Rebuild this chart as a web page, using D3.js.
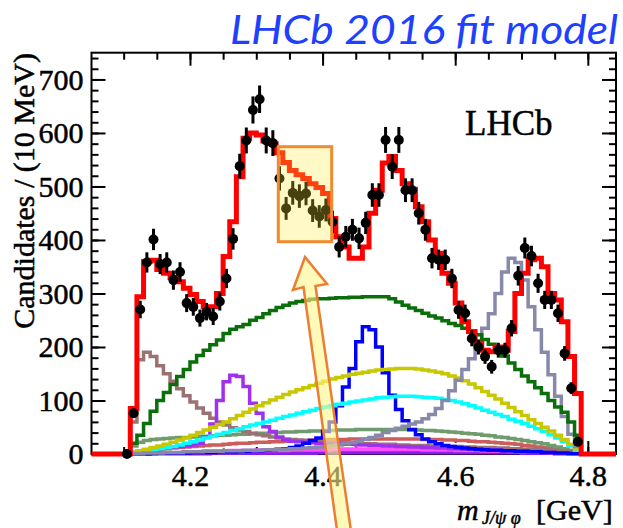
<!DOCTYPE html>
<html>
<head>
<meta charset="utf-8">
<script src="https://cdn.jsdelivr.net/npm/d3@7/dist/d3.min.js"></script>
<style>
  html, body { margin: 0; padding: 0; background: #fff; }
  svg { display: block; }
  .axis line { stroke: #000; stroke-width: 2; }
  .axis path { display: none; }
  .serif { font-family: "Liberation Serif", "Times New Roman", serif; fill: #000; stroke: #000; stroke-width: 0.5; }
</style>
</head>
<body>
<div id="chart"></div>
<script>
// bin centres, 10 MeV bins
var mass = [4.105,4.115,4.125,4.135,4.145,4.155,4.165,4.175,4.185,4.195,
  4.205,4.215,4.225,4.235,4.245,4.255,4.265,4.275,4.285,4.295,
  4.305,4.315,4.325,4.335,4.345,4.355,4.365,4.375,4.385,4.395,
  4.405,4.415,4.425,4.435,4.445,4.455,4.465,4.475,4.485,4.495,
  4.505,4.515,4.525,4.535,4.545,4.555,4.565,4.575,4.585,4.595,
  4.605,4.615,4.625,4.635,4.645,4.655,4.665,4.675,4.685,4.695,
  4.705,4.715,4.725,4.735,4.745,4.755,4.765,4.775,4.785];
var binWidth = 0.01;

// candidates per bin
var dataCounts = [0,76,270,358,401,355,358,325,340,282,
  275,254,266,257,285,328,402,538,586,643,
  663,586,581,515,459,488,482,487,455,444,
  456,434,387,406,419,403,432,484,484,587,
  537,587,493,493,450,419,366,363,363,328,
  269,263,216,200,182,163,194,194,235,333,
  385,370,319,288,288,263,188,123,23];

// total fit
var fitTotal = [0,85,294,360,362,345,338,330,322,310,
  298,285,275,275,300,369,434,518,590,600,
  596,585,580,563,545,530,522,515,505,498,
  487,440,406,387,366,366,387,450,493,544,
  556,530,505,495,462,434,400,375,338,319,
  282,247,229,207,194,191,200,194,229,300,
  338,363,366,350,300,288,247,182,113];

// fit components
var compGreen = [0,20,35,57,80,100,115,130,145,158,
  172,184,194,204,213,225,233,238,242,250,
  255,262,268,274,278,282,285,287,289,290,
  290,291,292,292,293,293,294,294,294,294,
  290,284,278,273,268,263,258,254,249,244,
  240,235,229,223,214,205,195,183,170,158,
  146,135,124,113,100,88,78,60,35];
var compBrown = [0,60,176,190,182,165,150,136,122,109,
  97,86,76,67,60,54,49,45,42,39,
  36,34,32,30,28,27,26,25,24,23,
  22,22,21,21,20,20,19,19,18,18,
  18,17,17,16,16,16,15,15,14,14,
  14,13,13,12,12,12,11,11,10,10,
  9,9,8,8,7,6,5,4,3];
var compViolet = [0,3,5,7,9,11,12,13,14,15,
  17,20,32,56,100,135,147,145,126,95,
  76,51,42,32,26,24,23,22,21,20,
  20,19,19,18,18,17,17,16,16,15,
  15,14,14,13,13,12,12,11,11,10,
  10,9,9,8,8,7,7,6,6,5,
  5,4,4,3,3,2,2,1,1];
var compBlue = [0,1,1,1,1,2,2,2,2,2,
  3,3,3,3,4,4,4,5,5,6,
  6,7,8,9,10,12,15,20,25,30,
  42,60,90,125,160,210,238,232,200,152,
  110,83,62,46,36,28,23,19,16,14,
  12,11,10,9,8,7,7,6,6,5,
  5,4,4,3,3,2,2,1,1];
var compYellow = [0,3,6,9,12,15,18,22,26,30,
  35,40,45,50,55,60,66,72,78,84,
  90,96,101,106,111,116,120,124,128,132,
  136,140,143,146,149,151,153,155,157,158,
  159,160,160,160,159,157,155,153,150,146,
  142,137,131,124,117,110,103,95,87,79,
  72,64,57,50,43,35,27,18,10];
var compCyan = [0,2,4,6,8,10,12,14,17,20,
  23,26,30,33,37,40,44,47,51,54,
  57,60,63,67,70,73,76,79,82,85,
  88,90,93,95,97,99,101,103,105,106,
  107,108,108,108,107,106,105,104,102,100,
  97,94,90,86,82,78,74,70,65,61,
  57,52,47,42,36,30,23,15,7];
var compGrey = [0,1,1,2,2,2,3,3,3,4,
  4,4,5,5,5,6,6,6,7,7,
  7,8,8,9,9,10,10,11,12,13,
  14,15,17,19,21,24,27,31,35,40,
  44,48,52,56,60,66,74,85,100,118,
  138,158,178,205,235,262,300,340,366,358,
  325,275,232,190,148,108,70,37,14];
var compSeaGreen = [0,15,22,25,27,28,29,30,31,31,
  32,33,33,34,35,35,36,37,37,38,
  39,39,40,40,41,41,42,42,43,43,
  44,44,45,45,45,46,46,46,46,46,
  46,46,46,45,45,44,44,43,42,41,
  40,39,38,37,35,34,32,31,29,27,
  25,23,21,19,16,13,10,7,3];
var compIndianRed = [0,3,5,7,8,9,10,11,12,13,
  14,15,16,17,17,18,19,20,20,21,
  22,22,23,23,24,24,25,25,26,26,
  26,27,27,27,28,28,28,28,28,28,
  28,28,28,28,28,27,27,27,26,26,
  25,25,24,23,23,22,21,20,19,18,
  16,15,13,12,10,8,6,4,2];
var compWhite = [0,2,3,4,5,6,7,8,9,9,
  10,11,12,12,13,14,14,15,15,16,
  16,17,17,18,18,18,19,19,19,20,
  20,20,20,21,21,21,21,21,21,21,
  21,21,21,20,20,20,20,19,19,18,
  18,17,17,16,16,15,14,13,12,11,
  10,9,8,7,6,5,4,3,1];
var compMagenta = [0,1,1,2,2,2,3,3,3,4,
  4,4,5,5,5,5,6,6,6,6,
  7,7,7,7,7,8,8,8,8,8,
  8,9,9,9,9,9,9,9,9,9,
  9,9,9,9,9,8,8,8,8,8,
  7,7,7,7,6,6,6,6,5,5,
  5,4,4,4,3,3,2,2,1];
var compPurple = [0,0,0,0,1,1,1,1,1,1,
  1,1,1,2,2,2,2,2,2,2,
  2,2,2,2,2,2,2,2,2,3,
  3,3,3,3,3,3,3,3,3,3,
  3,3,3,3,3,3,3,3,3,3,
  3,3,3,3,3,3,3,3,3,3,
  2,2,2,2,2,1,1,1,1];

// axis ticks
var xMajorTicks = [4.2, 4.4, 4.6, 4.8];
var yMajorTicks = [0, 100, 200, 300, 400, 500, 600, 700];

var width = 623;
var height = 528;
var frame = { left: 91.5, right: 616, top: 52.7, bottom: 454 };
var serifFont = '"Liberation Serif", "Times New Roman", serif';

var svg = d3.select('#chart').append('svg')
  .attr('width', width)
  .attr('height', height);

var x = d3.scaleLinear().domain([4.0515, 4.8425]).range([frame.left, frame.right]);
var y = d3.scaleLinear().domain([0, 750]).range([frame.bottom, frame.top]);

// histogram step outline
function stepPoints(vals, padFrame) {
  var pts = [];
  if (padFrame) pts.push([x.domain()[0], 0]);
  vals.forEach(function(v, i) {
    pts.push([mass[i] - binWidth / 2, v]);
    pts.push([mass[i] + binWidth / 2, v]);
  });
  pts.push([mass[mass.length - 1] + binWidth / 2, 0]);
  if (padFrame) pts.push([x.domain()[1], 0]);
  return pts;
}

var line = d3.line()
  .x(function(d) { return x(d[0]); })
  .y(function(d) { return y(d[1]); });

// ticks (inside the frame, on all four sides)
var minorX = x.ticks(16);
var minorY = y.ticks(37);

function axisGroup(t, axis) {
  var g = svg.append('g').attr('class', 'axis')
    .attr('transform', t)
    .attr('font-family', serifFont)
    .attr('font-size', 30)
    .call(axis);
  g.selectAll('text')
    .attr('class', 'serif')
    .style('font-family', serifFont)
    .style('font-size', '30px');
  return g;
}

axisGroup('translate(0,' + frame.top + ')', d3.axisTop(x).tickValues(minorX).tickSize(-7).tickFormat(''));
axisGroup('translate(0,' + frame.top + ')', d3.axisTop(x).tickValues(xMajorTicks).tickSize(-13).tickFormat(''));
axisGroup('translate(0,' + frame.bottom + ')', d3.axisBottom(x).tickValues(minorX).tickSize(-7).tickFormat(''));
axisGroup('translate(0,' + frame.bottom + ')', d3.axisBottom(x).tickValues(xMajorTicks).tickSize(-13).tickPadding(11)
  .tickFormat(d3.format('.1f')));

axisGroup('translate(' + frame.left + ',0)', d3.axisLeft(y).tickValues(minorY).tickSize(-7).tickFormat(''));
axisGroup('translate(' + frame.left + ',0)', d3.axisLeft(y).tickValues(yMajorTicks).tickSize(-14).tickPadding(8));
axisGroup('translate(' + frame.right + ',0)', d3.axisRight(y).tickValues(minorY).tickSize(-7).tickFormat(''));
axisGroup('translate(' + frame.right + ',0)', d3.axisRight(y).tickValues(yMajorTicks).tickSize(-14).tickFormat(''));

// frame
svg.append('rect')
  .attr('x', frame.left).attr('y', frame.top)
  .attr('width', frame.right - frame.left)
  .attr('height', frame.bottom - frame.top)
  .attr('fill', 'none').attr('stroke', '#000').attr('stroke-width', 2);

// components, back to front
var components = [
  { vals: compPurple, color: '#8a1ee6', w: 4 },
  { vals: compMagenta, color: '#ff4dff', w: 4 },
  { vals: compWhite, color: '#ffffff', w: 3 },
  { vals: compIndianRed, color: '#cd5c5c', w: 3.5 },
  { vals: compSeaGreen, color: '#6f9b6f', w: 3.5 },
  { vals: compBrown, color: '#9a7272', w: 3.5 },
  { vals: compViolet, color: '#a030f0', w: 3.5 },
  { vals: compBlue, color: '#0000ff', w: 3.5 },
  { vals: compCyan, color: '#00ffff', w: 3.5 },
  { vals: compYellow, color: '#c8c800', w: 3.5 },
  { vals: compGrey, color: '#8888aa', w: 3.5 },
  { vals: compGreen, color: '#0a6e0a', w: 3.5 }
];

svg.append('g').selectAll('path')
  .data(components)
  .enter().append('path')
  .attr('d', function(c) { return line(stepPoints(c.vals, false)); })
  .attr('fill', 'none')
  .attr('stroke', function(c) { return c.color; })
  .attr('stroke-width', function(c) { return c.w; });

// total fit
svg.append('path')
  .attr('d', line(stepPoints(fitTotal, true)))
  .attr('fill', 'none')
  .attr('stroke', '#ff0000')
  .attr('stroke-width', 5);

// data points with poisson errors
var pts = svg.append('g').selectAll('g')
  .data(dataCounts)
  .enter().append('g');

pts.append('line')
  .attr('x1', function(d, i) { return x(mass[i]); })
  .attr('x2', function(d, i) { return x(mass[i]); })
  .attr('y1', function(d) { return y(d - Math.sqrt(d)); })
  .attr('y2', function(d) { return y(d + Math.sqrt(d)); })
  .attr('stroke', '#000').attr('stroke-width', 3);
pts.append('line')
  .attr('x1', function(d, i) { return x(mass[i] - binWidth / 2); })
  .attr('x2', function(d, i) { return x(mass[i] + binWidth / 2); })
  .attr('y1', function(d) { return y(d); })
  .attr('y2', function(d) { return y(d); })
  .attr('stroke', '#000').attr('stroke-width', 3);
pts.append('circle')
  .attr('cx', function(d, i) { return x(mass[i]); })
  .attr('cy', function(d) { return y(d); })
  .attr('r', 5)
  .attr('fill', '#000');

// labels
svg.append('text')
  .attr('class', 'serif')
  .attr('x', 465).attr('y', 135)
  .style('font-size', '35px')
  .text('LHCb');

svg.append('text')
  .attr('class', 'serif')
  .attr('transform', 'translate(34,53) rotate(-90)')
  .attr('text-anchor', 'end')
  .style('font-size', '30px')
  .text('Candidates / (10 MeV)');

var xt = svg.append('text')
  .attr('class', 'serif')
  .style('font-family', serifFont)
  .style('font-size', '30px');
xt.append('tspan').attr('x', 457).attr('y', 520).attr('font-style', 'italic').text('m');
xt.append('tspan').attr('x', 482).attr('y', 524).style('font-size', '18px').attr('font-style', 'italic').text('J/\u03C8 \u03C6');
xt.append('tspan').attr('x', 536).attr('y', 520).text('[GeV]');

svg.append('text')
  .attr('x', 230).attr('y', 44)
  .attr('font-family', 'Lato, "Open Sans", sans-serif')
  .attr('font-style', 'italic')
  .attr('font-size', 40)
  .attr('textLength', 388)
  .attr('lengthAdjust', 'spacingAndGlyphs')
  .attr('fill', '#2040ff')
  .text('LHCb 2016 fit model');

// highlight box
svg.append('rect')
  .attr('x', 278.3).attr('y', 146.7)
  .attr('width', 53.4).attr('height', 95)
  .attr('fill', '#ffeb3b').attr('fill-opacity', 0.28)
  .attr('stroke', '#f08a30').attr('stroke-width', 3);

// arrow pointing at the box
var arrowPts = [[305, 257], [327, 284], [315.5, 286], [353, 545], [339, 545], [303.5, 287], [293, 290]];
svg.append('polygon')
  .attr('points', arrowPts.map(function(p) { return p.join(','); }).join(' '))
  .attr('fill', '#fff78a').attr('fill-opacity', 0.6)
  .attr('stroke', '#ed7d31').attr('stroke-width', 2.5)
  .attr('stroke-linejoin', 'miter');
</script>
</body>
</html>
